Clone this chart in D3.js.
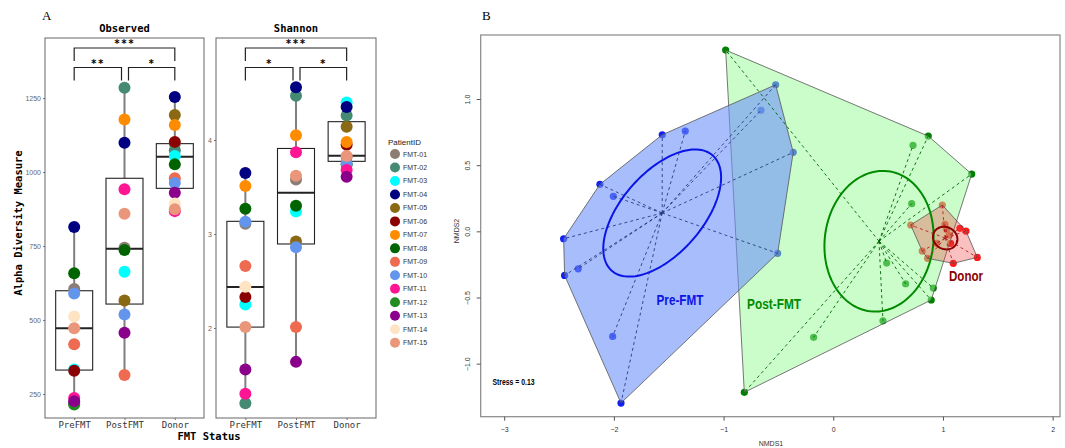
<!DOCTYPE html>
<html>
<head>
<meta charset="utf-8">
<script src="https://cdn.jsdelivr.net/npm/d3@7"></script>
<style>
  body { margin: 0; background: #fff; }
</style>
</head>
<body>
<div id="chart"></div>
<script>
// ---- data: panel A (alpha diversity) ----
var groups = ["PreFMT", "PostFMT", "Donor"];
var patients = ["FMT-01","FMT-02","FMT-03","FMT-04","FMT-05","FMT-06","FMT-07","FMT-08",
                "FMT-09","FMT-10","FMT-11","FMT-12","FMT-13","FMT-14","FMT-15"];
var patientColors = ["#8b7d73","#458b74","#00ffff","#000080","#8b6914","#8b0000","#ff8c00","#006400",
                     "#ee6a50","#6495ed","#ff1493","#228b22","#8b008b","#ffe4c4","#e9967a"];

// observed richness, one value per patient (null = no point visible)
var observedPre   = [605, 218, 333, 814, null, 329, null, 658, 418, 590, 237, 215, 226, 512, 472];
var observedPost  = [744, 1285, 663, 1099, 566, null, 1178, 737, 314, 519, 942, null, 457, null, 859];
var observedDonor = [1095, 1074, 1054, 1254, 1193, 1102, 1159, 1026, 979, 963, 868, null, 930, 894, 874];
// box stats: q1, median, q3, min, max
var observedBox = [[331, 472, 599, 215, 814], [554, 741, 979, 314, 1285], [945, 1052, 1096, 868, 1254]];
var observedTicks = [250, 500, 750, 1000, 1250];

var shannonPre   = [3.11, 1.20, 2.25, 3.65, null, 2.33, 3.51, 3.27, 2.66, 3.13, 1.30, null, 1.56, 2.44, 2.01];
var shannonPost  = [3.58, 4.47, 3.24, 4.56, 2.92, null, 4.05, 3.30, 2.01, 2.86, 3.87, null, 1.64, null, 3.62];
var shannonDonor = [3.82, 4.26, 4.40, 4.35, 4.14, 3.95, 3.98, 3.74, null, 3.75, 3.68, null, 3.61, null, 3.83];
var shannonBox = [[2.01, 2.436, 3.135, 1.20, 3.65], [2.894, 3.44, 3.91, 1.64, 4.56], [3.773, 3.833, 4.195, 3.61, 4.40]];
var shannonTicks = [2, 3, 4];

var observedSig = ["***", "**", "*"];
var shannonSig  = ["***", "*", "*"];

// ---- data: panel B (NMDS) ----
var preX = [-2.458, -2.449, -2.325, -2.127, -2.005, -1.559, -1.349, -2.011, -1.935, -0.659, -0.525, -0.365, -0.507];
var preY = [-0.056, -0.333, -0.283, 0.355, 0.265, 0.730, 0.758, -0.794, -1.298, 0.915, 1.108, 0.597, -0.166];
var postX = [-0.981, -0.811, 0.866, 1.262, 0.727, 0.715, 0.487, 0.660, 0.912, 0.893, 0.453, -0.179];
var postY = [1.370, -1.217, 0.720, 0.433, 0.650, 0.209, -0.240, -0.396, -0.429, -0.519, -0.676, -0.801];
var donorX = [0.994, 0.706, 0.811, 0.860, 1.094, 1.313, 1.210, 1.155, 1.018, 1.034, 1.070, 0.943, 1.057];
var donorY = [0.199, 0.048, -0.149, -0.204, -0.242, -0.197, 0.002, 0.023, 0.053, 0.015, -0.091, -0.091, -0.028];
var nmdsXTicks = [-3, -2, -1, 0, 1, 2];
var nmdsYTicks = [-1, -0.5, 0, 0.5, 1];

var svg = d3.select("#chart").append("svg")
  .attr("width", 1065).attr("height", 448)
  .style("font-family", "'Liberation Sans', Arial, sans-serif");

var mono = "'DejaVu Sans Mono', 'Liberation Mono', monospace";

// panel letters
svg.append("text").attr("x", 42).attr("y", 20).text("A")
  .style("font-family", "'Liberation Serif', serif").style("font-size", "13px");
svg.append("text").attr("x", 482).attr("y", 20).text("B")
  .style("font-family", "'Liberation Serif', serif").style("font-size", "13px");

function boxPanel(cfg) {
  var top = 38, bottom = 418;
  var x = d3.scalePoint().domain(groups).range([cfg.left, cfg.right]).padding(0.58);
  var y = d3.scaleLinear().domain(cfg.domain).range([bottom, top]);
  var g = svg.append("g");

  g.append("text").attr("x", (cfg.left + cfg.right) / 2).attr("y", 32)
    .attr("text-anchor", "middle").text(cfg.title)
    .style("font-family", mono).style("font-weight", "bold").style("font-size", "10.5px");

  // y axis
  var ay = g.append("g").attr("transform", "translate(" + cfg.left + ",0)")
    .call(d3.axisLeft(y).tickValues(cfg.ticks).tickSize(2).tickPadding(2).tickFormat(d3.format("d")));
  ay.select(".domain").remove();
  ay.selectAll("line").attr("stroke", "#777");
  ay.selectAll("text").attr("fill", "#666").style("font-size", "7px").style("font-family", "'Liberation Sans', sans-serif");

  // x axis
  var ax = g.append("g").attr("transform", "translate(0," + bottom + ")")
    .call(d3.axisBottom(x).tickSize(2).tickPadding(2));
  ax.select(".domain").remove();
  ax.selectAll("line").attr("stroke", "#777");
  ax.selectAll("text").attr("fill", "#333").style("font-size", "9px").style("font-family", mono);

  g.append("rect").attr("x", cfg.left).attr("y", top)
    .attr("width", cfg.right - cfg.left).attr("height", bottom - top)
    .attr("fill", "none").attr("stroke", "#666").attr("stroke-width", 1);

  // whiskers + boxes
  groups.forEach(function(grp, i) {
    var s = cfg.box[i], cx = x(grp), hw = 18.5;
    g.append("line").attr("x1", cx).attr("x2", cx).attr("y1", y(s[3])).attr("y2", y(s[4]))
      .attr("stroke", "#7f7f7f").attr("stroke-width", 2);
    g.append("rect").attr("x", cx - hw).attr("width", hw * 2)
      .attr("y", y(s[2])).attr("height", y(s[0]) - y(s[2]))
      .attr("fill", "#fff").attr("stroke", "#222").attr("stroke-width", 1.1);
    g.append("line").attr("x1", cx - hw).attr("x2", cx + hw).attr("y1", y(s[1])).attr("y2", y(s[1]))
      .attr("stroke", "#222").attr("stroke-width", 2);
  });

  // points
  groups.forEach(function(grp, i) {
    var vals = cfg.values[i];
    g.append("g").selectAll("circle")
      .data(vals.map(function(v, j) { return {v: v, c: patientColors[j]}; }).filter(function(d) { return d.v != null; }))
      .enter().append("circle")
      .attr("cx", x(grp)).attr("cy", function(d) { return y(d.v); })
      .attr("r", 6).attr("fill", function(d) { return d.c; });
  });

  // significance brackets
  var bk = [[x(groups[0]), x(groups[2]), top + 10, cfg.sig[0]],
            [x(groups[0]), x(groups[1]) - 3, top + 29.5, cfg.sig[1]],
            [x(groups[1]) + 4, x(groups[2]), top + 29.5, cfg.sig[2]]];
  bk.forEach(function(b) {
    g.append("path")
      .attr("d", "M" + b[0] + "," + (b[2] + 13) + "V" + b[2] + "H" + b[1] + "V" + (b[2] + 13))
      .attr("fill", "none").attr("stroke", "#222").attr("stroke-width", 1.2);
    g.append("text").attr("x", (b[0] + b[1]) / 2).attr("y", b[2] - 1)
      .attr("text-anchor", "middle").text(b[3])
      .style("font-family", mono).style("font-weight", "bold").style("font-size", "10px")
      .style("letter-spacing", "1px");
  });
}

boxPanel({left: 45, right: 204, domain: [169, 1453], ticks: observedTicks, title: "Observed",
          values: [observedPre, observedPost, observedDonor], box: observedBox, sig: observedSig});
boxPanel({left: 216, right: 376, domain: [1.043, 5.085], ticks: shannonTicks, title: "Shannon",
          values: [shannonPre, shannonPost, shannonDonor], box: shannonBox, sig: shannonSig});

svg.append("text").attr("transform", "translate(22,223) rotate(-90)")
  .attr("text-anchor", "middle").text("Alpha Diversity Measure")
  .style("font-family", mono).style("font-weight", "bold").style("font-size", "10.5px");
svg.append("text").attr("x", 209).attr("y", 440).attr("text-anchor", "middle").text("FMT Status")
  .style("font-family", mono).style("font-weight", "bold").style("font-size", "10.5px");

// legend
var leg = svg.append("g");
leg.append("text").attr("x", 388).attr("y", 145).text("PatientID")
  .style("font-size", "8px").attr("fill", "#222");
leg.selectAll("g.item").data(patients).enter().append("g").attr("class", "item")
  .each(function(d, i) {
    var yy = 154 + i * 13.48;
    d3.select(this).append("circle").attr("cx", 395).attr("cy", yy).attr("r", 5).attr("fill", patientColors[i]);
    d3.select(this).append("text").attr("x", 403).attr("y", yy + 2.5).text(d)
      .style("font-size", "7px").attr("fill", "#333");
  });

// ---- panel B ----
var nx = d3.scaleLinear().domain([-3.214, 2.067]).range([480.7, 1060]);
var ny = d3.scaleLinear().domain([-1.401, 1.484]).range([416.7, 35]);
var gb = svg.append("g");

var nmdsGroups = [
  {name: "Post-FMT", xs: postX, ys: postY, pt: "#008000", fill: "rgb(152,251,152)", op: 0.5,
   spider: "#006400", ell: "#008a00", lx: 774, ly: 309},
  {name: "Pre-FMT", xs: preX, ys: preY, pt: "#1020f0", fill: "rgb(110,145,250)", op: 0.6,
   spider: "#2a3a80", ell: "#0a14e6", lx: 680, ly: 305},
  {name: "Donor", xs: donorX, ys: donorY, pt: "#ff1a1a", fill: "rgb(240,60,60)", op: 0.33,
   spider: "#b22222", ell: "#8b0000", lx: 966, ly: 281}
];

function ellipse(xs, ys) {
  var n = xs.length, mx = d3.mean(xs), my = d3.mean(ys);
  var sxx = d3.sum(xs, function(v) { return (v - mx) * (v - mx); }) / (n - 1);
  var syy = d3.sum(ys, function(v) { return (v - my) * (v - my); }) / (n - 1);
  var sxy = d3.sum(xs, function(v, i) { return (v - mx) * (ys[i] - my); }) / (n - 1);
  var k = Math.sqrt(5.991 / n);
  var a = Math.sqrt(sxx), b = sxy / a, c = Math.sqrt(syy - b * b);
  return d3.range(0, 121).map(function(i) {
    var t = i / 120 * 2 * Math.PI, u = Math.cos(t), v = Math.sin(t);
    return [nx(mx + k * a * u), ny(my + k * (b * u + c * v))];
  });
}

// points (drawn first, hulls shade them)
nmdsGroups.forEach(function(G) {
  gb.append("g").selectAll("circle").data(G.xs).enter().append("circle")
    .attr("cx", function(d) { return nx(d); })
    .attr("cy", function(d, i) { return ny(G.ys[i]); })
    .attr("r", 3.6).attr("fill", G.pt);
});

// hulls
nmdsGroups.forEach(function(G) {
  var pts = G.xs.map(function(d, i) { return [nx(d), ny(G.ys[i])]; });
  var hull = d3.polygonHull(pts);
  gb.append("path").attr("d", "M" + hull.join("L") + "Z")
    .attr("fill", G.fill).attr("fill-opacity", G.op)
    .attr("stroke", "#555").attr("stroke-width", 0.8);
});

// spiders and ellipses
nmdsGroups.forEach(function(G) {
  var cx = nx(d3.mean(G.xs)), cy = ny(d3.mean(G.ys));
  G.xs.forEach(function(d, i) {
    gb.append("line").attr("x1", cx).attr("y1", cy).attr("x2", nx(d)).attr("y2", ny(G.ys[i]))
      .attr("stroke", G.spider).attr("stroke-width", 0.9).attr("stroke-dasharray", "3,3");
  });
  gb.append("path").attr("d", d3.line()(ellipse(G.xs, G.ys)))
    .attr("fill", "none").attr("stroke", G.ell).attr("stroke-width", 2);
  gb.append("text").attr("x", G.lx).attr("y", G.ly).attr("text-anchor", "middle").text(G.name)
    .attr("fill", G.ell).style("font-weight", "bold").style("font-size", "14px")
    .style("font-family", "'Liberation Sans Narrow', 'Liberation Sans', sans-serif")
    .attr("textLength", G.name === "Donor" ? 34 : (G.name === "Pre-FMT" ? 47 : 54))
    .attr("lengthAdjust", "spacingAndGlyphs");
});

// frame and axes
gb.append("rect").attr("x", 480.7).attr("y", 35).attr("width", 1060 - 480.7).attr("height", 416.7 - 35)
  .attr("fill", "none").attr("stroke", "#888").attr("stroke-width", 1.2);
var bx = gb.append("g").attr("transform", "translate(0,416.7)")
  .call(d3.axisBottom(nx).tickValues(nmdsXTicks).tickSize(4).tickPadding(6).tickFormat(d3.format("d")));
bx.select(".domain").remove();
bx.selectAll("line").attr("stroke", "#555");
bx.selectAll("text").attr("fill", "#333").style("font-size", "7px");
var by = gb.append("g").attr("transform", "translate(480.7,0)")
  .call(d3.axisLeft(ny).tickValues(nmdsYTicks).tickSize(4).tickFormat(d3.format(".1f")));
by.select(".domain").remove();
by.selectAll("line").attr("stroke", "#555");
by.selectAll("text").attr("fill", "#333").style("font-size", "7px")
  .attr("x", 0).attr("dy", 0).attr("text-anchor", "middle")
  .attr("transform", "translate(-11,0) rotate(-90)");

gb.append("text").attr("x", 771).attr("y", 446).attr("text-anchor", "middle").text("NMDS1")
  .style("font-size", "7px").attr("fill", "#333");
gb.append("text").attr("transform", "translate(459,231) rotate(-90)").attr("text-anchor", "middle")
  .text("NMDS2").style("font-size", "7px").attr("fill", "#333");
gb.append("text").attr("x", 492.5).attr("y", 385).text("Stress = 0.13")
  .style("font-size", "8.5px").style("font-weight", "bold")
  .attr("textLength", 42).attr("lengthAdjust", "spacingAndGlyphs");
</script>
</body>
</html>
